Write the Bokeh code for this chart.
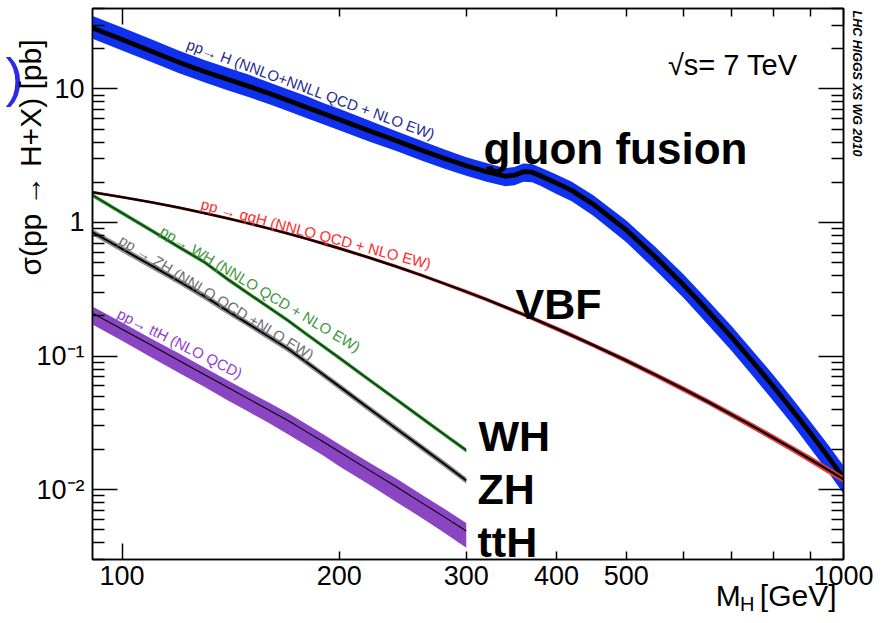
import math
from bokeh.plotting import figure
from bokeh.models import Label, Title, FixedTicker, LogAxis, CustomJSTickFormatter, Range1d
from bokeh.embed import file_html
from bokeh.resources import INLINE

# ---------------- data ----------------
mass = [90, 100, 110, 120, 130, 140, 150, 160, 170, 180, 190, 200, 220, 240, 260, 280, 300,
        320, 340, 350, 360, 370, 380, 400, 420, 450, 500, 550, 600, 650, 700, 750, 800,
        850, 900, 950, 1000]
ggf = [29.3, 23.4, 19.05, 15.8, 13.5, 11.8, 10.45, 9.25, 8.19, 7.30, 6.55, 5.91, 4.87, 4.09,
       3.47, 3.01, 2.66, 2.40, 2.22, 2.26, 2.40, 2.38, 2.24, 1.97, 1.74, 1.37, 0.877, 0.544,
       0.341, 0.215, 0.138, 0.0896, 0.0589, 0.0392, 0.0264, 0.0179, 0.01225]
ggf_up = [0.23, 0.23, 0.23, 0.22, 0.22, 0.22, 0.22, 0.21, 0.21, 0.21, 0.20, 0.20, 0.19, 0.18,
          0.18, 0.17, 0.16, 0.16, 0.15, 0.15, 0.15, 0.15, 0.15, 0.16, 0.16, 0.17, 0.18, 0.19,
          0.20, 0.20, 0.21, 0.21, 0.22, 0.22, 0.22, 0.23, 0.23]
ggf_dn = [0.17, 0.17, 0.17, 0.17, 0.17, 0.17, 0.17, 0.17, 0.17, 0.17, 0.17, 0.17, 0.17, 0.16,
          0.16, 0.16, 0.16, 0.16, 0.16, 0.16, 0.16, 0.16, 0.16, 0.17, 0.17, 0.18, 0.19, 0.20,
          0.20, 0.21, 0.21, 0.22, 0.22, 0.22, 0.23, 0.23, 0.24]
vbf = [1.70, 1.55, 1.415, 1.29, 1.177, 1.075, 0.983, 0.900, 0.825, 0.757, 0.696, 0.641, 0.546,
       0.468, 0.403, 0.348, 0.303, 0.265, 0.2324, 0.218, 0.2047, 0.1924, 0.181, 0.1605, 0.143,
       0.1207, 0.0924, 0.0718, 0.0566, 0.0452, 0.0364, 0.0297, 0.0244, 0.0202, 0.01684,
       0.01414, 0.01194]
vbf_unc = [0.025, 0.025, 0.025, 0.025, 0.025, 0.025, 0.025, 0.025, 0.025, 0.025, 0.03, 0.03,
           0.03, 0.03, 0.03, 0.03, 0.035, 0.035, 0.035, 0.035, 0.035, 0.035, 0.04, 0.04, 0.04,
           0.04, 0.045, 0.045, 0.05, 0.05, 0.05, 0.055, 0.055, 0.055, 0.06, 0.06, 0.06]

mass_vh = [90, 100, 110, 120, 130, 140, 150, 160, 170, 180, 190, 200, 220, 240, 260, 280, 300]
wh = [1.66, 1.18, 0.867, 0.654, 0.506, 0.377, 0.292, 0.230, 0.184, 0.1466, 0.1186, 0.0970,
      0.0666, 0.0473, 0.0345, 0.0258, 0.0197]
wh_unc = [0.035, 0.035, 0.035, 0.035, 0.035, 0.035, 0.035, 0.035, 0.035, 0.035, 0.035, 0.035,
          0.035, 0.035, 0.035, 0.035, 0.035]
zh = [0.877, 0.634, 0.473, 0.363, 0.281, 0.218, 0.173, 0.139, 0.113, 0.0902, 0.0728, 0.0593,
      0.0405, 0.0286, 0.0208, 0.0155, 0.0117]
zh_unc = [0.055, 0.055, 0.055, 0.055, 0.055, 0.055, 0.055, 0.055, 0.055, 0.055, 0.055, 0.055,
          0.055, 0.055, 0.055, 0.055, 0.055]
tth = [0.217, 0.159, 0.120, 0.0924, 0.0728, 0.0584, 0.0476, 0.0393, 0.0328, 0.0272, 0.0228,
       0.0192, 0.0140, 0.01052, 0.0080, 0.00623, 0.00490]
tth_up = [0.12, 0.12, 0.12, 0.13, 0.13, 0.13, 0.13, 0.14, 0.14, 0.14, 0.14, 0.14, 0.14, 0.15,
          0.15, 0.15, 0.15]
tth_dn = [0.18, 0.18, 0.19, 0.19, 0.19, 0.20, 0.20, 0.20, 0.21, 0.21, 0.21, 0.22, 0.22, 0.23,
          0.23, 0.24, 0.25]

x_major = [100, 1000]
x_minor = [200, 300, 400, 500, 600, 700, 800, 900]
x_label_ticks = [100, 200, 300, 400, 500, 1000]
x_labels = ["100", "200", "300", "400", "500", "1000"]
y_major = [0.01, 0.1, 1, 10]
y_labels = ["10\u207b\u00b2", "10\u207b\u00b9", "1", "10"]
y_minor = [k * 10.0 ** e for e in range(-3, 2) for k in range(2, 10) if 0.003 <= k * 10.0 ** e <= 40]
paren_ticks = [12.25]
paren_labels = [")"]

FONT = "Liberation Sans"

# ---------------- figure ----------------
X0, X1, Y0, Y1 = 91, 1000, 0.003, 40
p = figure(width=895, height=623, x_axis_type="log", y_axis_type="log",
           x_range=Range1d(X0, X1), y_range=Range1d(Y0, Y1),
           output_backend="svg", toolbar_location=None,
           min_border_left=92, min_border_right=52, min_border_top=8, min_border_bottom=64)
p.xgrid.visible = False
p.ygrid.visible = False
p.outline_line_color = "black"
p.outline_line_width = 1.5
p.background_fill_color = "white"
p.border_fill_color = "white"

empty = CustomJSTickFormatter(code="return '';")


def style_ticks(ax, maj_in, min_in):
    ax.major_tick_in = maj_in
    ax.major_tick_out = 0
    ax.minor_tick_in = min_in
    ax.minor_tick_out = 0
    ax.axis_line_width = 1.5
    ax.axis_line_color = "black"
    ax.major_tick_line_width = 1.5
    ax.minor_tick_line_width = 1.5
    ax.major_tick_line_color = "black"
    ax.minor_tick_line_color = "black"


def hide_labels(ax):
    ax.formatter = empty
    ax.major_label_text_font_size = "0px"
    ax.major_label_standoff = 0


def bare(ax):
    ax.major_tick_in = 0
    ax.major_tick_out = 0
    ax.minor_tick_in = 0
    ax.minor_tick_out = 0
    ax.axis_line_color = None
    ax.major_tick_line_color = None
    ax.minor_tick_line_color = None


# bottom axis (ticks only)
xa = p.xaxis[0]
xa.ticker = FixedTicker(ticks=x_major, minor_ticks=x_minor)
style_ticks(xa, 16, 8)
hide_labels(xa)

# bottom axis carrying the labels
xl = LogAxis(ticker=FixedTicker(ticks=x_label_ticks, minor_ticks=[]),
             formatter=CustomJSTickFormatter(args=dict(v=x_label_ticks, l=x_labels),
                                             code="const i = v.findIndex(a => Math.abs(a - tick) / a < 1e-6); return i >= 0 ? l[i] : '';"))
bare(xl)
xl.major_label_standoff = 6
xl.major_label_text_font = FONT
xl.major_label_text_font_size = "27px"
xl.major_label_text_color = "black"
p.add_layout(xl, "below")

# top axis
xt = LogAxis(ticker=FixedTicker(ticks=x_major, minor_ticks=x_minor))
style_ticks(xt, 16, 8)
hide_labels(xt)
p.add_layout(xt, "above")

# left axis
ya = p.yaxis[0]
ya.ticker = FixedTicker(ticks=y_major, minor_ticks=y_minor)
style_ticks(ya, 25, 12)
ya.formatter = CustomJSTickFormatter(args=dict(v=y_major, l=y_labels),
                                     code="const i = v.findIndex(a => Math.abs(a - tick) / a < 1e-6); return i >= 0 ? l[i] : '';")
ya.major_label_text_font = FONT
ya.major_label_text_font_size = "27px"
ya.major_label_text_color = "black"
ya.major_label_standoff = 8

# right axis
yr = LogAxis(ticker=FixedTicker(ticks=y_major, minor_ticks=y_minor))
style_ticks(yr, 25, 12)
hide_labels(yr)
p.add_layout(yr, "right")

# ---------------- texts outside the frame ----------------
p.add_layout(Title(text="\u03c3(pp \u2192 H+X) [pb]", align="right", offset=31, standoff=-26,
                   vertical_align="bottom", text_font=FONT, text_font_size="30px",
                   text_font_style="normal", text_color="black"), "left")

# cropped blue parenthesis at the far left (a tick label of a bare axis)
pa = LogAxis(ticker=FixedTicker(ticks=paren_ticks, minor_ticks=[]),
             formatter=CustomJSTickFormatter(args=dict(l=paren_labels), code="return l[0];"))
bare(pa)
pa.major_label_standoff = 1
pa.major_label_text_font = FONT
pa.major_label_text_font_size = "54px"
pa.major_label_text_color = "#2a2ae8"
p.add_layout(pa, "left")

p.add_layout(Title(text="LHC HIGGS XS WG 2010", align="left", offset=2, standoff=12,
                   vertical_align="bottom", text_font=FONT, text_font_size="12.5px",
                   text_font_style="bold italic", text_color="black"), "right")

p.add_layout(Title(text="M\u00a0\u00a0\u200a[GeV]", align="right", offset=7, standoff=-22,
                   vertical_align="bottom", text_font=FONT, text_font_size="30px",
                   text_font_style="normal", text_color="black"), "below")
p.add_layout(Title(text="H", align="right", offset=89, standoff=-19,
                   vertical_align="bottom", text_font=FONT, text_font_size="20px",
                   text_font_style="normal", text_color="black"), "below")

# ---------------- bands and lines ----------------
def band(x, v, up, dn, color):
    p.varea(x=x, y1=[a * (1 - d) for a, d in zip(v, dn)], y2=[a * (1 + u) for a, u in zip(v, up)],
            fill_color=color, fill_alpha=1.0)

band(mass, ggf, ggf_up, ggf_dn, "#1030f0")
p.line(mass, ggf, line_color="black", line_width=4.8, line_join="round")

band(mass, vbf, vbf_unc, vbf_unc, "#ee3838")
p.line(mass, vbf, line_color="black", line_width=2.3, line_join="round")

band(mass_vh, wh, wh_unc, wh_unc, "#2c8a2c")
p.line(mass_vh, wh, line_color="#0c3a0c", line_width=1.2, line_join="round")

band(mass_vh, zh, zh_unc, zh_unc, "#8c8c8c")
p.line(mass_vh, zh, line_color="black", line_width=2.0, line_join="round")

band(mass_vh, tth, tth_up, tth_dn, "#8a46c2")
p.line(mass_vh, tth, line_color="black", line_width=1.1, line_join="round")

# ---------------- texts inside the frame ----------------
LX0, LX1 = math.log10(X0), math.log10(X1)
LY0, LY1 = math.log10(Y0), math.log10(Y1)
FL, FT, FW, FH = 92, 8, 751, 551


def at(xp, yp):
    return (10 ** (LX0 + (xp - FL) / FW * (LX1 - LX0)),
            10 ** (LY1 - (yp - FT) / FH * (LY1 - LY0)))


def label(text, xp, yp, size, color="black", angle_deg=0.0, style="normal", align="left",
          baseline="alphabetic", font=FONT):
    x, y = at(xp, yp)
    p.add_layout(Label(x=x, y=y, text=text, text_font=font, text_font_size=size,
                       text_color=color, text_font_style=style, angle=math.radians(angle_deg),
                       text_align=align, text_baseline=baseline))


label("pp\u2192 H (NNLO+NNLL QCD + NLO EW)", 187, 43, "15px", "#1f2a8f", -20.3)
label("pp \u2192 qqH (NNLO QCD + NLO EW)", 201, 203, "15px", "#ff2a2a", -14.8)
label("pp\u2192 WH (NNLO QCD + NLO EW)", 161, 229, "15px", "#3c983c", -31.0)
label("pp \u2192 ZH (NNLO QCD +NLO EW)", 120, 238, "15px", "#6e6e6e", -31.5)
label("pp\u2192 ttH (NLO QCD)", 118, 312, "15px", "#9540d0", -26.6)

label("gluon fusion", 483, 148, "44px", style="bold")
label("VBF", 515, 303, "43px", style="bold")
label("WH", 478, 435, "43px", style="bold")
label("ZH", 477, 488, "43px", style="bold")
label("ttH", 477, 541, "43px", style="bold")

label("\u221as= 7 TeV", 797, 64, "29px", align="right")

open("out.html", "w").write(file_html(p, INLINE))
